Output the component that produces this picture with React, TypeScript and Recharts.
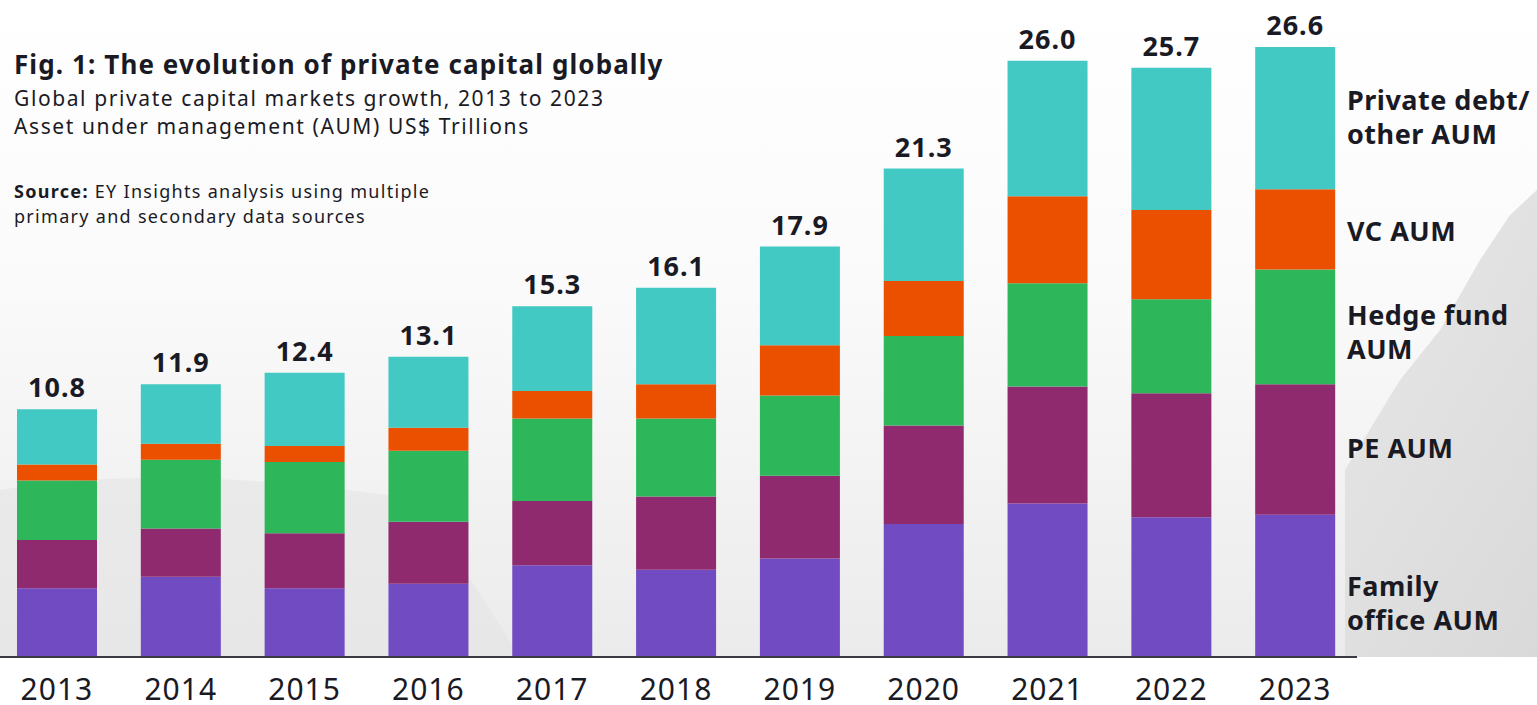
import React from 'react';
import { BarChart, Bar, XAxis, YAxis, LabelList } from 'recharts';

const years = ['2013', '2014', '2015', '2016', '2017', '2018', '2019', '2020', '2021', '2022', '2023'];
const totals = ['10.8', '11.9', '12.4', '13.1', '15.3', '16.1', '17.9', '21.3', '26.0', '25.7', '26.6'];

// US$ trillions
const familyOffice = [3.0, 3.5, 3.0, 3.2, 4.0, 3.8, 4.3, 5.8, 6.7, 6.1, 6.2];
const privateEquity = [2.1, 2.1, 2.4, 2.7, 2.8, 3.2, 3.6, 4.3, 5.1, 5.4, 5.7];
const hedgeFund = [2.6, 3.0, 3.1, 3.1, 3.6, 3.4, 3.5, 3.9, 4.5, 4.1, 5.0];
const ventureCapital = [0.7, 0.7, 0.7, 1.0, 1.2, 1.5, 2.2, 2.4, 3.8, 3.9, 3.5];
const privateDebt = [2.4, 2.6, 3.2, 3.1, 3.7, 4.2, 4.3, 4.9, 5.9, 6.2, 6.2];

const legendLines = [
  ['Private debt/', 'other AUM'],
  ['VC AUM'],
  ['Hedge fund', 'AUM'],
  ['PE AUM'],
  ['Family', 'office AUM'],
];

const COLORS = {
  family: '#714bc1',
  pe: '#8f2a6f',
  hedge: '#2db75a',
  vc: '#ea5000',
  debt: '#43c9c3',
};

const INK = '#1a1a24';
const FONT = '"Noto Sans", "Open Sans", sans-serif';

const data = years.map((year, i) => ({
  year,
  family: familyOffice[i],
  pe: privateEquity[i],
  hedge: hedgeFund[i],
  vc: ventureCapital[i],
  debt: privateDebt[i],
  total: totals[i],
}));

// top of each legend block, lined up with the 2023 bar
const legendTops = [83, 214, 298, 431, 569];

function Background() {
  return (
    <svg width={1537} height={705} style={{ position: 'absolute', left: 0, top: 0 }}>
      <defs>
        <linearGradient id="sky" x1="0" y1="0" x2="0" y2="1">
          <stop offset="0%" stopColor="#ffffff" />
          <stop offset="45%" stopColor="#fafafa" />
          <stop offset="100%" stopColor="#ebebeb" />
        </linearGradient>
        <linearGradient id="rock" x1="0" y1="0" x2="1" y2="1">
          <stop offset="0%" stopColor="#e4e4e4" />
          <stop offset="100%" stopColor="#d6d6d6" />
        </linearGradient>
      </defs>
      <rect x={0} y={0} width={1537} height={657} fill="url(#sky)" />
      <path d="M0,490 C120,470 260,475 420,500 L520,657 L0,657 Z" fill="#e4e4e4" opacity={0.6} />
      <path d="M1345,470 L1400,380 L1440,330 L1480,260 L1510,215 L1537,190 L1537,657 L1345,657 Z" fill="url(#rock)" opacity={0.85} />
    </svg>
  );
}

export default function App() {
  return (
    <div style={{ position: 'fixed', left: 0, top: 0, width: 1537, height: 705, overflow: 'hidden', background: '#ffffff', fontFamily: FONT, color: INK }}>
      <Background />

      <div style={{ position: 'absolute', left: 14, top: 47, fontSize: 26, fontWeight: 700, letterSpacing: 1.1, lineHeight: '34px', whiteSpace: 'nowrap' }}>
        Fig. 1: The evolution of private capital globally
      </div>
      <div style={{ position: 'absolute', left: 14, top: 84, fontSize: 21, letterSpacing: 1.6, lineHeight: '28px', whiteSpace: 'nowrap' }}>
        Global private capital markets growth, 2013 to 2023
        <br />
        Asset under management (AUM) US$ Trillions
      </div>
      <div style={{ position: 'absolute', left: 14, top: 179, fontSize: 18, letterSpacing: 1.3, lineHeight: '25px', whiteSpace: 'nowrap' }}>
        <b>Source:</b> EY Insights analysis using multiple
        <br />
        primary and secondary data sources
      </div>

      <div style={{ position: 'absolute', left: -5, top: 0 }}>
        <BarChart width={1362} height={705} data={data} margin={{ top: 15, right: 0, left: 0, bottom: 18 }} barSize={80}>
          <XAxis
            dataKey="year"
            height={30}
            tickLine={false}
            axisLine={{ stroke: '#3a3a44', strokeWidth: 2 }}
            tick={{ fill: INK, fontSize: 30, fontFamily: FONT, letterSpacing: 1 }}
            dy={14}
            interval={0}
          />
          <YAxis hide domain={[0, 28]} />
          <Bar dataKey="family" stackId="a" fill={COLORS.family} isAnimationActive={false} />
          <Bar dataKey="pe" stackId="a" fill={COLORS.pe} isAnimationActive={false} />
          <Bar dataKey="hedge" stackId="a" fill={COLORS.hedge} isAnimationActive={false} />
          <Bar dataKey="vc" stackId="a" fill={COLORS.vc} isAnimationActive={false} />
          <Bar dataKey="debt" stackId="a" fill={COLORS.debt} isAnimationActive={false}>
            <LabelList dataKey="total" position="top" offset={12} fill={INK} fontSize={27} fontWeight={700} fontFamily={FONT} letterSpacing={1} />
          </Bar>
        </BarChart>
      </div>

      {legendLines.map((lines, i) => (
        <div key={i} style={{ position: 'absolute', left: 1347, top: legendTops[i], fontSize: 27, fontWeight: 700, letterSpacing: 0.5, lineHeight: '34px', whiteSpace: 'nowrap' }}>
          {lines.map((l, j) => (
            <div key={j}>{l}</div>
          ))}
        </div>
      ))}
    </div>
  );
}
